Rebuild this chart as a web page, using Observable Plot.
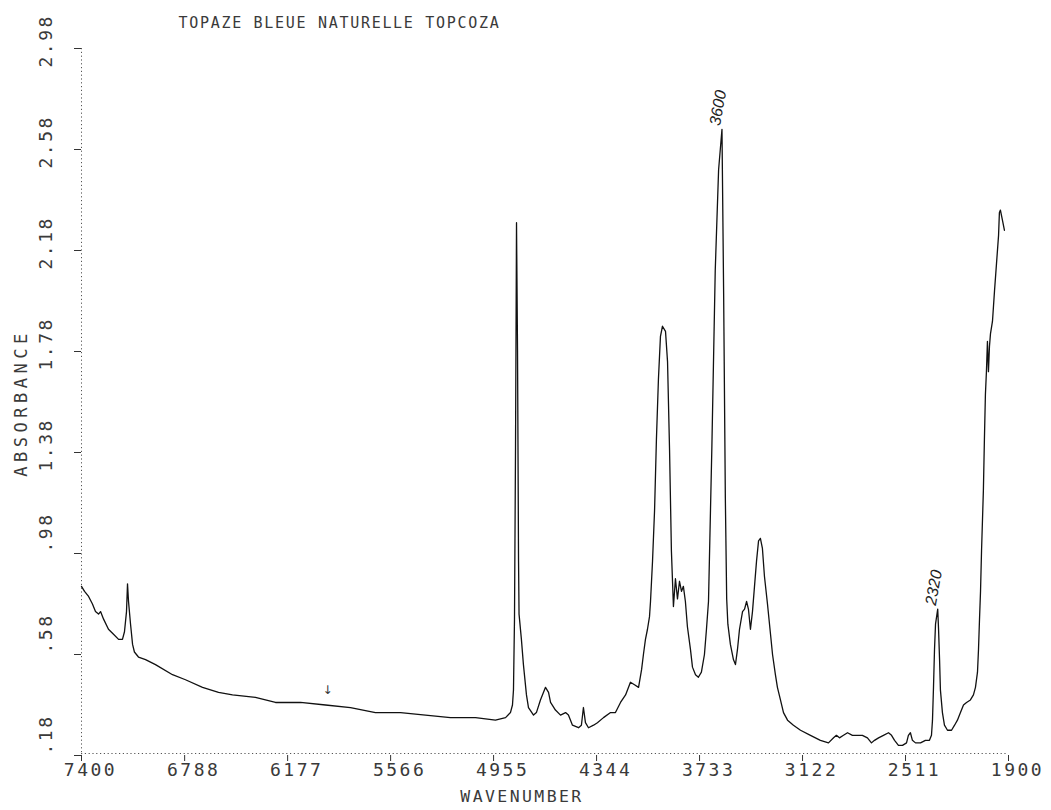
<!DOCTYPE html>
<html>
<head>
<meta charset="utf-8">
<script src="https://cdn.jsdelivr.net/npm/d3@7"></script>
<script src="https://cdn.jsdelivr.net/npm/@observablehq/plot@0.6"></script>
<style>
  html, body { margin: 0; padding: 0; background: #fff; }
  #chart svg { display: block; }
  /* wide plotter-style lettering, keyed on each text group's font size */
  #chart g[font-size="18"] { letter-spacing: 2.5px; }
  #chart g[font-size="15"] { letter-spacing: 1.7px; }
  #chart g[font-size="16.5"] { letter-spacing: 2.4px; }
  #chart g[font-size="17"] { letter-spacing: 4.5px; }
</style>
</head>
<body>
<div id="chart"></div>
<script>
// IR absorbance spectrum of a natural blue topaz (wavenumber in cm-1)
const wavenumber = [
  7400, 7382, 7358, 7335, 7317, 7299, 7287, 7269, 7240, 7210,
  7180, 7157, 7145, 7133, 7127, 7121, 7109, 7097, 7086, 7062,
  7020, 6961, 6860, 6783, 6682, 6587, 6504, 6368, 6249, 6101,
  5952, 5804, 5656, 5507, 5359, 5211, 5062, 4944, 4884, 4855,
  4843, 4837, 4831, 4825, 4819, 4813, 4807, 4804, 4790, 4778,
  4760, 4748, 4718, 4701, 4677, 4647, 4629, 4617, 4588, 4558,
  4528, 4511, 4487, 4451, 4434, 4422, 4410, 4392, 4362, 4339,
  4303, 4261, 4232, 4202, 4172, 4143, 4119, 4095, 4077, 4066,
  4054, 4042, 4030, 4024, 4012, 4000, 3989, 3977, 3965, 3953,
  3935, 3923, 3911, 3900, 3888, 3876, 3864, 3852, 3840, 3829,
  3817, 3805, 3787, 3775, 3757, 3740, 3722, 3704, 3692, 3680,
  3660, 3640, 3620, 3600, 3590, 3580, 3572, 3565, 3550, 3532,
  3520, 3508, 3496, 3478, 3466, 3454, 3443, 3431, 3419, 3407,
  3395, 3383, 3372, 3360, 3348, 3330, 3312, 3300, 3283, 3271,
  3253, 3235, 3211, 3176, 3134, 3075, 3016, 2968, 2938, 2921,
  2903, 2879, 2855, 2826, 2796, 2767, 2737, 2713, 2695, 2671,
  2642, 2612, 2594, 2576, 2553, 2529, 2505, 2494, 2482, 2470,
  2452, 2422, 2393, 2369, 2357, 2351, 2345, 2339, 2333, 2320,
  2315, 2309, 2304, 2292, 2280, 2262, 2238, 2220, 2203, 2185,
  2167, 2149, 2126, 2108, 2096, 2084, 2078, 2072, 2066, 2060,
  2049, 2043, 2037, 2031, 2025, 2019, 2013, 2007, 1995, 1983,
  1971, 1959, 1954, 1948, 1936, 1924
];
const absorbance = [
  0.85, 0.83, 0.81, 0.78, 0.75, 0.74, 0.75, 0.72, 0.68, 0.66,
  0.64, 0.64, 0.67, 0.75, 0.86, 0.79, 0.70, 0.62, 0.59, 0.57,
  0.56, 0.54, 0.50, 0.48, 0.45, 0.43, 0.42, 0.41, 0.39, 0.39,
  0.38, 0.37, 0.35, 0.35, 0.34, 0.33, 0.33, 0.32, 0.33, 0.35,
  0.38, 0.44, 0.72, 1.39, 2.29, 1.78, 0.95, 0.74, 0.64, 0.54,
  0.42, 0.37, 0.34, 0.35, 0.40, 0.45, 0.43, 0.39, 0.36, 0.34,
  0.35, 0.34, 0.30, 0.29, 0.30, 0.37, 0.31, 0.29, 0.30, 0.31,
  0.33, 0.35, 0.35, 0.39, 0.42, 0.47, 0.46, 0.45, 0.52, 0.58,
  0.64, 0.68, 0.73, 0.79, 0.95, 1.15, 1.43, 1.67, 1.84, 1.88,
  1.86, 1.74, 1.39, 0.99, 0.77, 0.88, 0.80, 0.87, 0.83, 0.85,
  0.79, 0.69, 0.60, 0.53, 0.50, 0.49, 0.51, 0.58, 0.68, 0.79,
  1.40, 2.10, 2.50, 2.66, 2.00, 1.20, 0.80, 0.70, 0.62, 0.56,
  0.54, 0.60, 0.68, 0.75, 0.76, 0.79, 0.76, 0.68, 0.75, 0.85,
  0.95, 1.03, 1.04, 1.00, 0.89, 0.78, 0.66, 0.58, 0.50, 0.45,
  0.40, 0.35, 0.32, 0.30, 0.28, 0.26, 0.24, 0.23, 0.25, 0.26,
  0.25, 0.26, 0.27, 0.26, 0.26, 0.26, 0.25, 0.23, 0.24, 0.25,
  0.26, 0.27, 0.26, 0.24, 0.22, 0.22, 0.23, 0.26, 0.27, 0.24,
  0.23, 0.23, 0.24, 0.24, 0.26, 0.32, 0.45, 0.60, 0.70, 0.76,
  0.68, 0.56, 0.44, 0.35, 0.30, 0.28, 0.28, 0.30, 0.32, 0.35,
  0.38, 0.39, 0.40, 0.42, 0.45, 0.51, 0.60, 0.72, 0.83, 0.99,
  1.23, 1.43, 1.61, 1.70, 1.82, 1.70, 1.80, 1.85, 1.90, 2.02,
  2.13, 2.24, 2.33, 2.34, 2.30, 2.26
];

const xTicks = [7400, 6788, 6177, 5566, 4955, 4344, 3733, 3122, 2511, 1900];
const yTicks = [0.18, 0.58, 0.98, 1.38, 1.78, 2.18, 2.58, 2.98];
const peakPositions = [3600, 2320];
const markerPositions = [5940];

const titleText = "TOPAZE BLEUE NATURELLE TOPCOZA";
const xTitle = "WAVENUMBER";
const yTitle = "ABSORBANCE";

const spectrum = wavenumber.map((w, i) => ({w, a: absorbance[i]}));
const peaks = peakPositions.map(w => ({w, a: absorbance[wavenumber.indexOf(w)], label: String(w)}));
const markers = markerPositions.map(w => ({w, a: 0.44}));

const yFmt = d => d < 1 ? d.toFixed(2).slice(1) : d.toFixed(2);
const mono = "DejaVu Sans Mono";
const ink = "#3a3a3a";

// y labels read upward with the decimal point level with the tick
const yTickLabel = (ticks, dy) => Plot.text(ticks, {
  y: d => d, frameAnchor: "left", textAnchor: "start", dx: -35, dy, rotate: -90,
  text: yFmt, fontFamily: mono, fontSize: 18, fill: ink
});

const chart = Plot.plot({
  width: 1051,
  height: 810,
  marginTop: 48,
  marginBottom: 55,
  marginLeft: 81,
  marginRight: 43,
  style: {background: "#fff", color: "#333"},
  x: {domain: [7400, 1900], ticks: xTicks, tickSize: 6, tickFormat: () => "", label: null},
  y: {domain: [0.18, 2.98], ticks: yTicks, tickSize: 7, tickFormat: () => "", label: null},
  marks: [
    // dotted axis lines
    Plot.ruleX([7400], {stroke: "#555", strokeWidth: 1, strokeDasharray: "1.2,2.6"}),
    Plot.ruleY([0.18], {stroke: "#555", strokeWidth: 1, strokeDasharray: "1.2,2.6", dy: -2}),
    // spectrum trace
    Plot.line(spectrum, {x: "w", y: "a", stroke: "#111", strokeWidth: 1.3, strokeLinejoin: "round"}),
    // tick labels
    Plot.text(xTicks, {
      x: d => d, frameAnchor: "bottom", textAnchor: "middle", dy: 20, dx: 9, text: d => String(d),
      fontFamily: mono, fontSize: 18, fill: ink
    }),
    yTickLabel(yTicks.filter(d => d < 1), -1),
    yTickLabel(yTicks.filter(d => d >= 1), 19),
    // titles
    Plot.text([titleText], {
      frameAnchor: "top-left", dx: 97, dy: -31, textAnchor: "start", text: d => d,
      fontFamily: mono, fontSize: 15, fill: ink
    }),
    Plot.text([xTitle], {
      frameAnchor: "bottom", textAnchor: "middle", dx: -23, dy: 46, text: d => d,
      fontFamily: mono, fontSize: 16.5, fill: ink
    }),
    Plot.text([yTitle], {
      frameAnchor: "left", textAnchor: "middle", dx: -60, dy: 1, rotate: -90, text: d => d,
      fontFamily: mono, fontSize: 17, fill: ink
    }),
    // peak annotations
    Plot.text(peaks, {
      x: "w", y: "a", text: "label", rotate: -80, textAnchor: "start",
      dx: -7, dy: -4, fontFamily: "Liberation Sans", fontStyle: "italic",
      fontSize: 16, fill: "#222"
    }),
    Plot.text(markers, {
      x: "w", y: "a", text: () => "↓", fontFamily: "DejaVu Sans", fontSize: 12, fill: "#333"
    })
  ]
});

document.getElementById("chart").appendChild(chart);
</script>
</body>
</html>
